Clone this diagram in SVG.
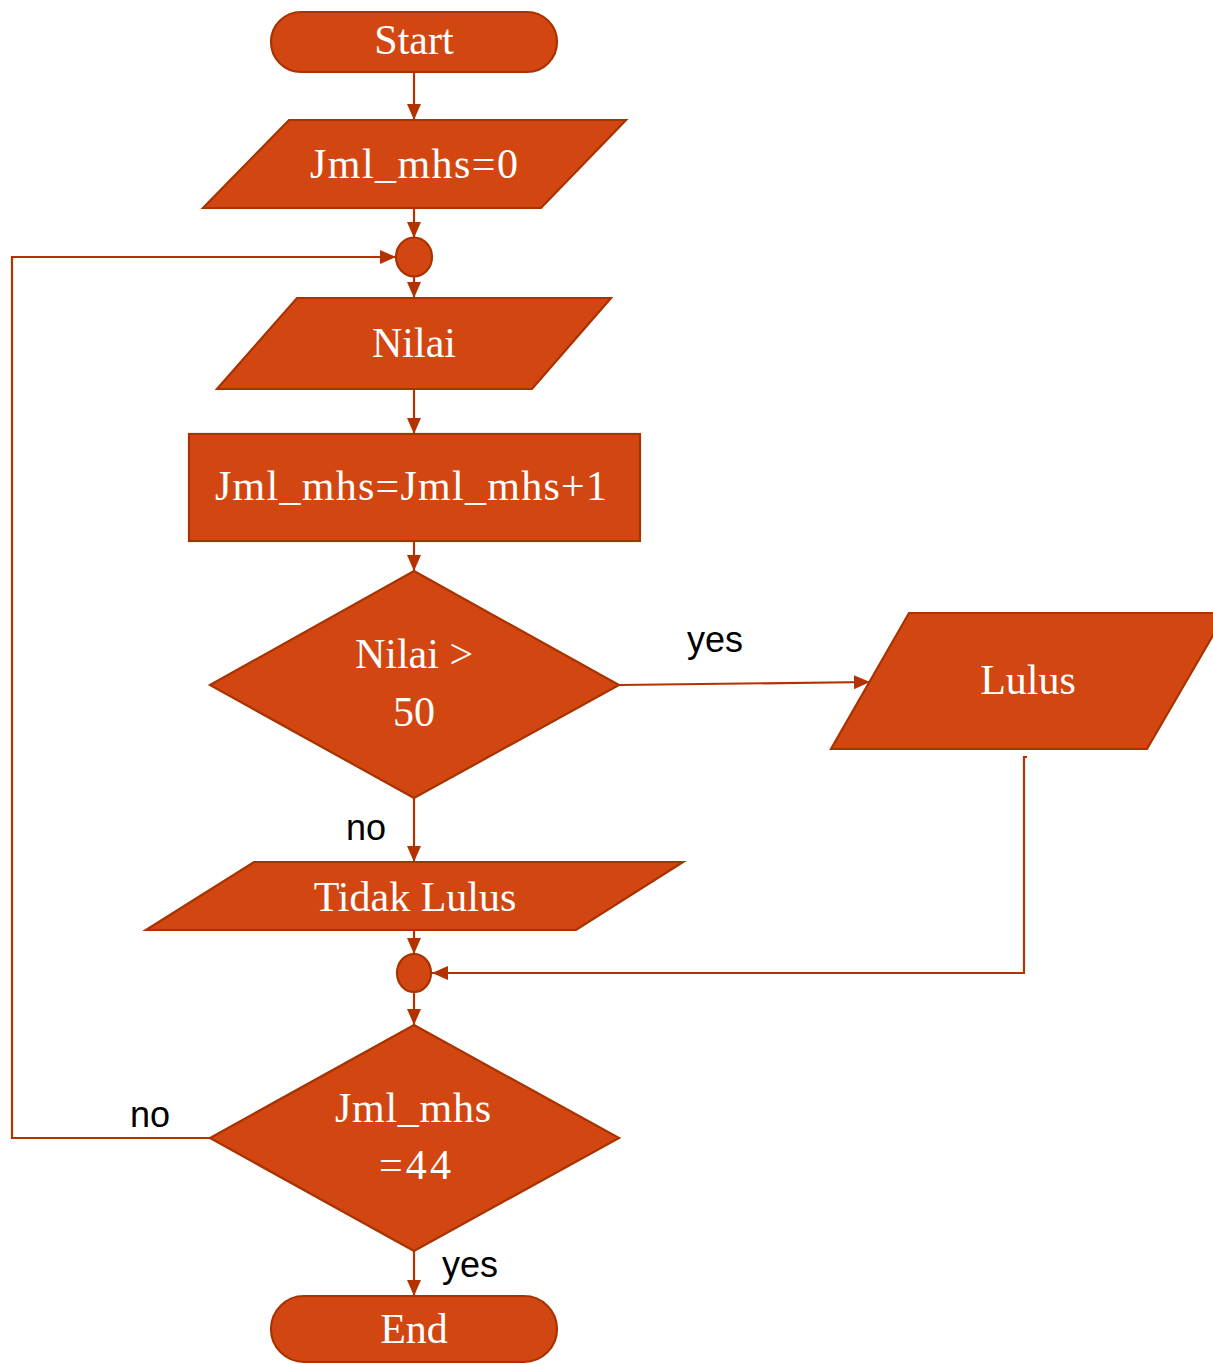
<svg xmlns="http://www.w3.org/2000/svg" width="1213" height="1364" viewBox="0 0 1213 1364">
  <defs>
    <style>
      .shape { fill: #D24711; stroke: #A83300; stroke-width: 2.2; }
      .conn { fill: none; stroke: #B33200; stroke-width: 2.2; }
      .t { fill: #FFFFFF; font-family: "Liberation Serif", "Times New Roman", serif; font-size: 42px; text-anchor: middle; }
      .lbl { fill: #000000; font-family: "Liberation Sans", Arial, sans-serif; font-size: 36px; }
    </style>
    <marker id="arrow" viewBox="0 0 16 14" refX="16" refY="7" markerWidth="16" markerHeight="14" markerUnits="userSpaceOnUse" orient="auto">
      <path d="M0,0 L16,7 L0,14 Z" fill="#B33200"/>
    </marker>
  </defs>

  <rect width="1213" height="1364" fill="#FFFFFF"/>

  <!-- connectors -->
  <g id="connectors">
    <path class="conn" d="M414,72 V120" marker-end="url(#arrow)"/>
    <path class="conn" d="M414,208 V238" marker-end="url(#arrow)"/>
    <path class="conn" d="M414,277 V298" marker-end="url(#arrow)"/>
    <path class="conn" d="M414,389 V434" marker-end="url(#arrow)"/>
    <path class="conn" d="M414,541 V571" marker-end="url(#arrow)"/>
    <path class="conn" d="M619,685 L870,682" marker-end="url(#arrow)"/>
    <path class="conn" d="M414,798 V862" marker-end="url(#arrow)"/>
    <path class="conn" d="M414,930 V954" marker-end="url(#arrow)"/>
    <path class="conn" d="M1027,757 H1024 V973 H432" marker-end="url(#arrow)"/>
    <path class="conn" d="M414,992 V1025" marker-end="url(#arrow)"/>
    <path class="conn" d="M210,1138 H12 V257 H396" marker-end="url(#arrow)"/>
    <path class="conn" d="M414,1251 V1296" marker-end="url(#arrow)"/>
    <text class="lbl" x="715" y="652" text-anchor="middle">yes</text>
    <text class="lbl" x="366" y="840" text-anchor="middle">no</text>
    <text class="lbl" x="150" y="1127" text-anchor="middle">no</text>
    <text class="lbl" x="470" y="1277" text-anchor="middle">yes</text>
  </g>

  <g id="start">
    <rect class="shape" x="271" y="12" width="286" height="60" rx="30" ry="30"/>
    <text class="t" x="414" y="54">Start</text>
  </g>

  <g id="init">
    <polygon class="shape" points="289,120 626,120 541,208 203,208"/>
    <text class="t" x="414" y="178" textLength="208">Jml_mhs=0</text>
  </g>

  <g id="join1">
    <ellipse class="shape" cx="414" cy="257" rx="18" ry="19.5"/>
  </g>

  <g id="input-nilai">
    <polygon class="shape" points="297,298 611,298 532,389 217,389"/>
    <text class="t" x="414" y="357">Nilai</text>
  </g>

  <g id="increment">
    <rect class="shape" x="189" y="434" width="451" height="107"/>
    <text class="t" x="411" y="500" textLength="392">Jml_mhs=Jml_mhs+1</text>
  </g>

  <g id="check-nilai">
    <polygon class="shape" points="414,571 619,685 414,798 210,685"/>
    <text class="t" x="414" y="668">Nilai &gt;</text>
    <text class="t" x="414" y="726">50</text>
  </g>

  <g id="out-lulus">
    <polygon class="shape" points="909,613 1226,613 1147,749 831,749"/>
    <text class="t" x="1028" y="694">Lulus</text>
  </g>

  <g id="out-tidak-lulus">
    <polygon class="shape" points="254,862 683,862 576,930 146,930"/>
    <text class="t" x="415" y="911">Tidak Lulus</text>
  </g>

  <g id="join2">
    <ellipse class="shape" cx="414" cy="973" rx="17" ry="19"/>
  </g>

  <g id="check-count">
    <polygon class="shape" points="414,1025 619,1138 414,1251 210,1138"/>
    <text class="t" x="413" y="1122" textLength="156">Jml_mhs</text>
    <text class="t" x="415" y="1179" textLength="72">=44</text>
  </g>

  <g id="end">
    <rect class="shape" x="271" y="1296" width="286" height="66" rx="33" ry="33"/>
    <text class="t" x="414" y="1343">End</text>
  </g>
</svg>
